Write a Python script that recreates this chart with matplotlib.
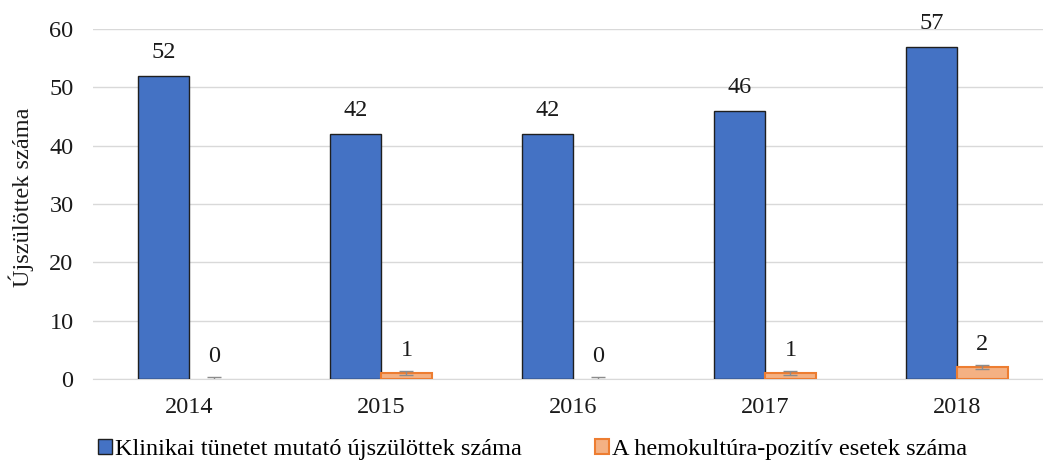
import numpy as np
import matplotlib.pyplot as plt

years = ['2014', '2015', '2016', '2017', '2018']
klinikai = [52, 42, 42, 46, 57]
pozitiv = [0, 1, 0, 1, 2]
pozitiv_err = [0.35, 0.35, 0.35, 0.35, 0.35]

plt.rcParams['font.family'] = ['Liberation Serif', 'DejaVu Serif']
FS = 17.5

fig = plt.figure(figsize=(10.43, 4.63), dpi=100)
ax = fig.add_axes([93 / 1043, 84 / 463, 960 / 1043, 350 / 463])

x = np.arange(len(years))
w = 0.265

b1 = ax.bar(x - w / 2, klinikai, w, color='#4472C4', edgecolor='#1f1f1f', linewidth=1.0,
            label='Klinikai tünetet mutató újszülöttek száma', zorder=3)
# zero-height bars show no outline in the original
edges = ['#ED7D31' if v > 0 else 'none' for v in pozitiv]
b2 = ax.bar(x + w / 2, pozitiv, w, color='#F4B183', edgecolor=edges, linewidth=1.5,
            label='A hemokultúra-pozitív esetek száma', zorder=3)
ax.errorbar(x + w / 2, pozitiv, yerr=pozitiv_err, fmt='none', ecolor='#8c8c8c',
            elinewidth=1.0, capsize=5, capthick=1.0, zorder=4)

for bars, vals in ((b1, klinikai), (b2, pozitiv)):
    for rect, v in zip(bars, vals):
        ax.annotate(str(v), (rect.get_x() + rect.get_width() / 2, v),
                    xytext=(0, 9), textcoords='offset points',
                    ha='center', va='bottom', fontsize=FS, color='#1a1a1a')

ax.set_xlim(-0.5, 4.5)
ax.set_ylim(0, 60)
ax.set_yticks(range(0, 61, 10))
ax.set_xticks(x)
ax.set_xticklabels(years)
ax.tick_params(axis='both', length=0, labelsize=FS, colors='#1a1a1a')
ax.tick_params(axis='x', pad=13)
ax.tick_params(axis='y', pad=14)
ax.grid(axis='y', color='#d9d9d9', linewidth=1.0, zorder=0)
for s in ('top', 'right', 'left'):
    ax.spines[s].set_visible(False)
ax.spines['bottom'].set_color('#d9d9d9')
ax.spines['bottom'].set_zorder(2)

fig.text(21 / 1043, 1 - 197 / 463, 'Újszülöttek száma', rotation=90, ha='center', va='center',
         fontsize=FS, color='#1a1a1a')

b2_leg = plt.Rectangle((0, 0), 1, 1, facecolor='#F4B183', edgecolor='#ED7D31', linewidth=1.5)
fig.legend(handles=[b1, b2_leg], labels=[b1.get_label(), b2.get_label()],
           loc='lower left', bbox_to_anchor=(76 / 1043, -19 / 463),
           ncol=2, frameon=False, fontsize=FS, handlelength=0.6, handleheight=0.6,
           handletextpad=0.1, columnspacing=3.0)

fig.savefig('out.png', dpi=100)
